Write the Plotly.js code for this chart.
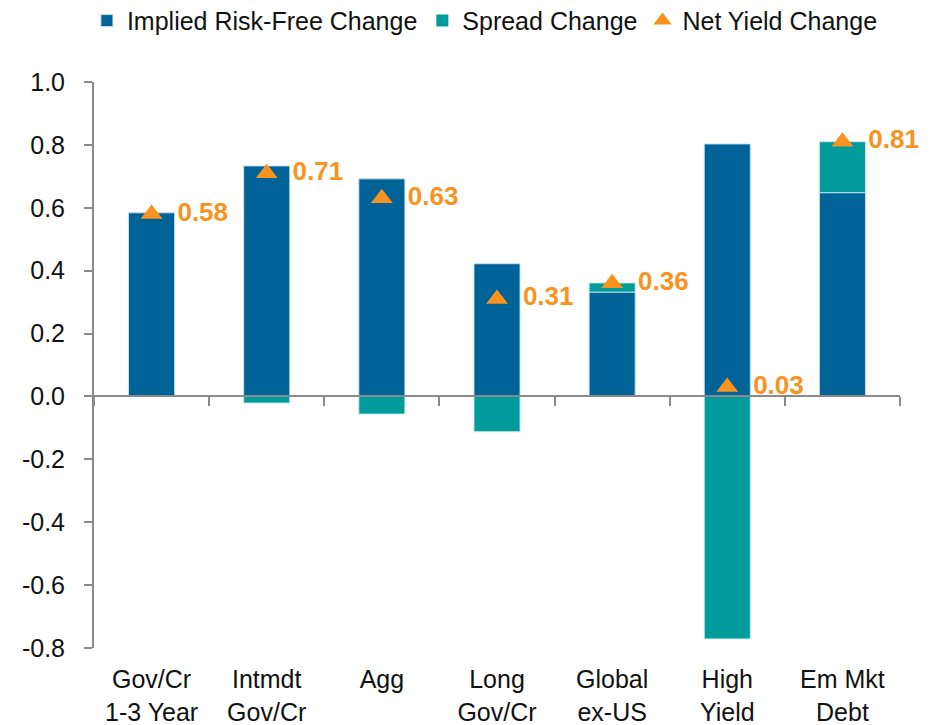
<!DOCTYPE html>
<html>
<head>
<meta charset="utf-8">
<script src="https://cdn.plot.ly/plotly-3.0.1.min.js"></script>
<style>html,body{margin:0;padding:0;background:#fff;}#chart{width:938px;height:725px;}</style>
</head>
<body>
<div id="chart"></div>
<script>
const categories = ["Gov/Cr<br>1-3 Year", "Intmdt<br>Gov/Cr", "Agg", "Long<br>Gov/Cr", "Global<br>ex-US", "High<br>Yield", "Em Mkt<br>Debt"];
const riskFreeChange = [0.584, 0.733, 0.692, 0.422, 0.332, 0.803, 0.648];
const spreadChange = [0.0, -0.021, -0.056, -0.112, 0.029, -0.771, 0.162];
const netYieldChange = [0.58, 0.71, 0.63, 0.31, 0.36, 0.03, 0.81];
const yTickVals = [1.0, 0.8, 0.6, 0.4, 0.2, 0.0, -0.2, -0.4, -0.6, -0.8];
const yTickText = ["1.0", "0.8", "0.6", "0.4", "0.2", "0.0", "-0.2", "-0.4", "-0.6", "-0.8"];

const yRange = [-0.8, 1.0];
const zeroPos = (0 - yRange[0]) / (yRange[1] - yRange[0]);
const font = "Arial, 'Liberation Sans', sans-serif";
const fs = 25;

const traces = [
  {
    type: "bar", name: "Implied Risk-Free Change", x: categories, y: riskFreeChange,
    width: 0.4, marker: {color: "#006398", line: {color: "rgba(200,225,240,0.9)", width: 1}},
    hoverinfo: "y"
  },
  {
    type: "bar", name: "Spread Change", x: categories, y: spreadChange,
    width: 0.4, marker: {color: "#009B9A", line: {color: "rgba(200,235,235,0.9)", width: spreadChange.map(v => v === 0 ? 0 : 1)}},
    hoverinfo: "y"
  },
  {
    type: "scatter", mode: "markers+text", name: "Net Yield Change", x: categories, y: netYieldChange,
    xaxis: "x2", yaxis: "y",
    marker: {symbol: "triangle-up", size: 19, color: "#F7931E"},
    text: netYieldChange.map(v => "\u2002" + v.toFixed(2)), textposition: "middle right",
    textfont: {family: font, size: 26, color: "#F7931E", weight: "bold"},
    cliponaxis: false
  }
];

const layout = {
  width: 938, height: 725,
  margin: {l: 94, r: 38, t: 82, b: 77, autoexpand: false},
  paper_bgcolor: "#fff", plot_bgcolor: "#fff",
  font: {family: font, size: fs, color: "#111"},
  barmode: "relative",
  showlegend: true,
  legend: {orientation: "h", x: 0.485, xanchor: "center", y: 1.108, yanchor: "middle",
           font: {family: font, size: 25, color: "#111"}, itemwidth: 30, tracegroupgap: 0},
  xaxis: {
    type: "category", range: [-0.5, 6.5], showline: false, ticks: "", showgrid: false,
    zeroline: false, tickfont: {family: font, size: fs, color: "#111"}, ticklabelstandoff: 14
  },
  xaxis2: {
    type: "category", range: [-0.5, 6.5], overlaying: "x", anchor: "free", position: zeroPos,
    side: "bottom", showline: true, linecolor: "#8A8A8A", linewidth: 2,
    ticks: "outside", tickson: "boundaries", ticklen: 9, tickwidth: 2, tickcolor: "#8A8A8A",
    showticklabels: false, showgrid: false, zeroline: false
  },
  yaxis: {
    range: yRange, tickvals: yTickVals, ticktext: yTickText, showgrid: false, zeroline: false,
    showline: true, linecolor: "#8A8A8A", linewidth: 2, ticks: "outside", ticklen: 8, tickwidth: 2,
    tickcolor: "#8A8A8A", tickfont: {family: font, size: fs, color: "#111"}, ticklabelstandoff: 14
  }
};

Plotly.newPlot("chart", traces, layout, {displayModeBar: false, staticPlot: true});
</script>
</body>
</html>
